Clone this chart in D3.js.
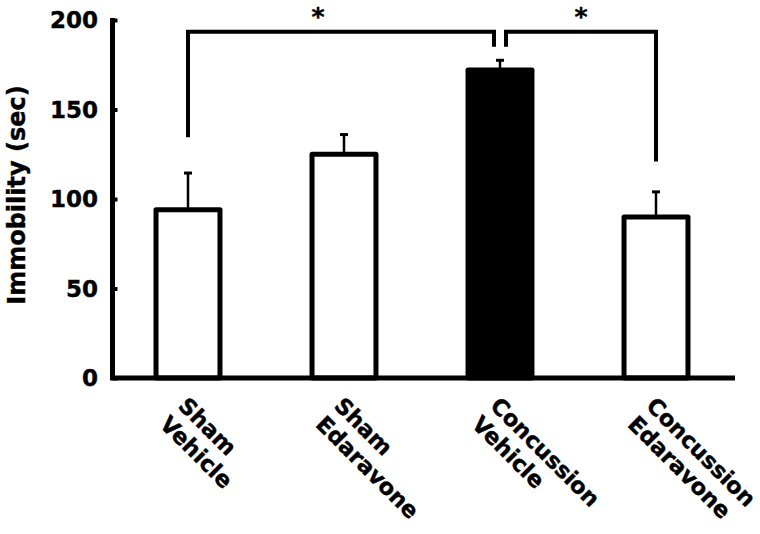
<!DOCTYPE html>
<html>
<head>
<meta charset="utf-8">
<script src="https://cdn.jsdelivr.net/npm/d3@7"></script>
<style>
  body { margin: 0; background: #fff; }
  text { font-family: "DejaVu Sans", sans-serif; font-weight: bold; fill: #000; stroke: #000; stroke-width: 0.4; }
</style>
</head>
<body>
<svg id="chart" width="760" height="534"></svg>
<script>
// groups, two label lines each
const groups = ["Sham Vehicle", "Sham Edaravone", "Concussion Vehicle", "Concussion Edaravone"];
const labelLines = [["Sham", "Vehicle"], ["Sham", "Edaravone"], ["Concussion", "Vehicle"], ["Concussion", "Edaravone"]];
const means = [94, 125, 172, 90];
const errors = [20.5, 11, 5.5, 14];
const filled = [false, false, true, false];
const yTicks = [0, 50, 100, 150, 200];

// significance brackets: from group, to group, level of top line, foot levels
const brackets = [
  { from: 0, to: 2, top: 193.5, footFrom: 134.5, footTo: 185, label: "*" },
  { from: 2, to: 3, top: 193.5, footFrom: 185, footTo: 121, label: "*" }
];

const svg = d3.select("#chart");

const x = d3.scaleBand()
  .domain(groups)
  .range([110, 734])
  .paddingInner(0.59)
  .paddingOuter(0.295);

const y = d3.scaleLinear().domain([0, 200]).range([378, 20]);

const cx = (i) => x(groups[i]) + x.bandwidth() / 2;

// bars
svg.append("g")
  .selectAll("rect")
  .data(means)
  .join("rect")
  .attr("x", (d, i) => x(groups[i]))
  .attr("y", (d) => y(d))
  .attr("width", x.bandwidth())
  .attr("height", (d) => y(0) - y(d))
  .attr("fill", (d, i) => (filled[i] ? "#000" : "#fff"))
  .attr("stroke", "#000")
  .attr("stroke-width", 5)
  .attr("stroke-linejoin", "round");

// error bars (upper only)
const eb = svg.append("g").attr("stroke", "#000");
eb.selectAll("line.stem")
  .data(means)
  .join("line")
  .attr("class", "stem")
  .attr("x1", (d, i) => cx(i))
  .attr("x2", (d, i) => cx(i))
  .attr("y1", (d) => y(d) - 2)
  .attr("y2", (d, i) => y(d + errors[i]))
  .attr("stroke-width", 2.5);
eb.selectAll("line.cap")
  .data(means)
  .join("line")
  .attr("class", "cap")
  .attr("x1", (d, i) => cx(i) - 4)
  .attr("x2", (d, i) => cx(i) + 4)
  .attr("y1", (d, i) => y(d + errors[i]))
  .attr("y2", (d, i) => y(d + errors[i]))
  .attr("stroke-width", 3);

// axes
const yAxis = svg.append("g")
  .attr("transform", "translate(112.5,0)")
  .call(d3.axisRight(y).tickValues(yTicks).tickSize(5).tickFormat(""));
yAxis.select(".domain").remove();
yAxis.selectAll(".tick line").attr("stroke", "#000").attr("stroke-width", 4);

svg.append("line")
  .attr("x1", 112.5).attr("x2", 112.5)
  .attr("y1", y(0)).attr("y2", y(200) - 2)
  .attr("stroke", "#000").attr("stroke-width", 5);
svg.append("line")
  .attr("x1", 110).attr("x2", x.range()[1] + 1)
  .attr("y1", y(0)).attr("y2", y(0))
  .attr("stroke", "#000").attr("stroke-width", 5);

svg.append("g")
  .selectAll("text")
  .data(yTicks)
  .join("text")
  .attr("x", 98)
  .attr("y", (d) => y(d))
  .attr("dy", "0.36em")
  .attr("text-anchor", "end")
  .attr("font-size", 23)
  .text((d) => d);

svg.append("text")
  .attr("transform", `translate(25,${(y(0) + y(200)) / 2 - 4}) rotate(-90)`)
  .attr("text-anchor", "middle")
  .attr("font-size", 24)
  .text("Immobility (sec)");

// category labels, rotated 45deg
const lab = svg.append("g")
  .selectAll("g")
  .data(labelLines)
  .join("g")
  .attr("transform", (d, i) => `translate(${cx(i) - 11},407) rotate(45)`);
lab.selectAll("text")
  .data((d) => d)
  .join("text")
  .attr("x", 0)
  .attr("y", (d, j) => j * 26)
  .attr("font-size", 22.5)
  .text((d) => d);

// significance brackets
const gap = 6;
brackets.forEach((b, k) => {
  const x1 = cx(b.from) + (k === 1 ? gap : 0);
  const x2 = cx(b.to) - (k === 0 ? gap : 0);
  svg.append("path")
    .attr("d", `M${x1},${y(b.footFrom)}V${y(b.top)}H${x2}V${y(b.footTo)}`)
    .attr("fill", "none")
    .attr("stroke", "#000")
    .attr("stroke-width", 4);
  const mid = (x1 + x2) / 2 + (k === 0 ? -23 : 0);
  svg.append("text")
    .attr("x", mid)
    .attr("y", 25)
    .attr("text-anchor", "middle")
    .attr("font-size", 25)
    .text(b.label);
});
</script>
</body>
</html>
